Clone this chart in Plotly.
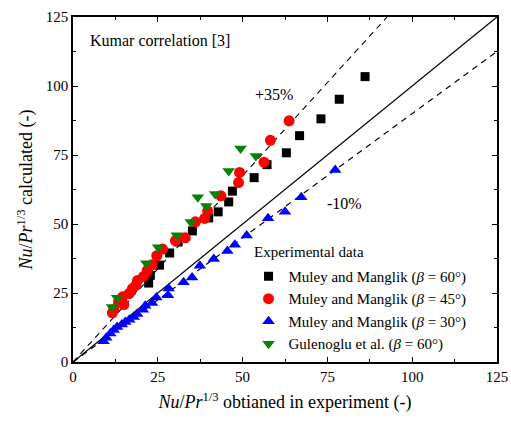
import plotly.graph_objects as go

# Data: (Nu/Pr^1/3 experiment, Nu/Pr^1/3 calculated)
black_x = [22.3, 22.8, 25.5, 28.5, 31.0, 35.2, 40.0, 42.8, 45.9, 47.0, 53.4, 57.2, 62.9, 66.8, 73.1, 78.5, 86.1]
black_y = [28.6, 31.4, 35.1, 39.5, 43.5, 47.5, 52.2, 54.4, 58.0, 61.9, 66.8, 71.5, 75.8, 82.0, 88.1, 95.2, 103.4]

red_x = [11.6, 12.0, 13.4, 14.6, 15.0, 16.5, 17.5, 18.5, 19.0, 20.8, 21.9, 23.3, 24.7, 26.4, 30.2, 33.1, 36.1, 38.8, 39.7, 43.6, 48.8, 49.1, 56.3, 58.2, 63.7]
red_y = [17.8, 19.0, 21.7, 23.6, 20.8, 24.8, 26.6, 27.8, 29.5, 31.0, 33.2, 35.2, 38.5, 40.9, 44.0, 45.0, 50.8, 52.0, 54.7, 60.2, 65.0, 68.7, 72.4, 80.3, 87.4]

blue_x = [9.0, 9.8, 11.0, 12.0, 13.0, 14.4, 15.4, 16.6, 17.9, 18.9, 20.6, 21.3, 23.3, 24.6, 28.0, 28.2, 32.6, 35.1, 37.4, 41.5, 45.5, 47.7, 51.2, 57.5, 62.5, 67.3, 77.3]
blue_y = [7.5, 8.8, 10.3, 11.6, 12.7, 13.6, 14.5, 15.3, 16.3, 17.4, 18.9, 20.4, 21.4, 23.4, 24.2, 26.6, 28.9, 30.6, 34.9, 37.3, 40.2, 42.5, 45.8, 52.1, 54.4, 59.7, 69.6]

green_x = [11.5, 13.0, 21.6, 25.1, 30.6, 34.7, 36.8, 39.3, 41.9, 45.9, 49.4, 53.9]
green_y = [19.9, 23.3, 35.8, 41.6, 45.9, 50.7, 59.7, 56.5, 60.9, 69.2, 77.4, 74.6]

axis_max = 125
upper_factor = 1.35
lower_factor = 0.90
ticks = [0, 25, 50, 75, 100, 125]

FONT = "Liberation Serif"

fig = go.Figure()

# reference lines
fig.add_trace(go.Scatter(x=[0, axis_max], y=[0, axis_max], mode="lines",
                         line=dict(color="black", width=1.3), showlegend=False, hoverinfo="skip"))
fig.add_trace(go.Scatter(x=[0, axis_max / upper_factor], y=[0, axis_max], mode="lines",
                         line=dict(color="black", width=1.1, dash="6px,5px"), showlegend=False, hoverinfo="skip"))
fig.add_trace(go.Scatter(x=[0, axis_max], y=[0, axis_max * lower_factor], mode="lines",
                         line=dict(color="black", width=1.1, dash="6px,5px"), showlegend=False, hoverinfo="skip"))

fig.add_trace(go.Scatter(x=black_x, y=black_y, mode="markers", name="Muley and Manglik (<i>β</i> = 60°)",
                         marker=dict(symbol="square", size=9, color="black")))
fig.add_trace(go.Scatter(x=red_x, y=red_y, mode="markers", name="Muley and Manglik (<i>β</i> = 45°)",
                         marker=dict(symbol="circle", size=11, color="#FF0000")))
fig.add_trace(go.Scatter(x=blue_x, y=blue_y, mode="markers", name="Muley and Manglik (<i>β</i> = 30°)",
                         marker=dict(symbol="triangle-up", size=11, color="#0000FF")))
fig.add_trace(go.Scatter(x=green_x, y=green_y, mode="markers", name="Gulenoglu et al. (<i>β</i> = 60°)",
                         marker=dict(symbol="triangle-down", size=11, color="#078207")))

axis_common = dict(range=[0, axis_max], tickvals=ticks, showgrid=False, zeroline=False,
                   showline=True, linecolor="black", linewidth=1.5, mirror="ticks",
                   ticks="inside", ticklen=5, tickwidth=1.3, tickcolor="black",
                   tickfont=dict(family=FONT, size=15, color="black"),
                   minor=dict(ticks="inside", ticklen=3, tickwidth=1.2, tickcolor="black", dtick=12.5))

fig.update_xaxes(**axis_common,
                 title=dict(text="<i>Nu</i>/<i>Pr</i><sup>1/3</sup> obtianed in experiment (-)",
                            font=dict(family=FONT, size=18, color="black"), standoff=12))
fig.update_yaxes(**axis_common,
                 title=dict(text="<i>Nu</i>/<i>Pr</i><sup>1/3</sup> calculated (-)",
                            font=dict(family=FONT, size=18, color="black"), standoff=8))

fig.add_annotation(x=4.5, y=116.5, xref="x", yref="y", text="Kumar correlation [3]", showarrow=False,
                   xanchor="left", yanchor="middle", font=dict(family=FONT, size=16, color="black"))
fig.add_annotation(x=59.3, y=96.8, xref="x", yref="y", text="+35%", showarrow=False,
                   font=dict(family=FONT, size=16, color="black"))
fig.add_annotation(x=79.9, y=57.5, xref="x", yref="y", text="-10%", showarrow=False,
                   font=dict(family=FONT, size=16, color="black"))
fig.add_annotation(x=0.422, y=0.318, xref="paper", yref="paper", text="Experimental data", showarrow=False,
                   xanchor="left", yanchor="middle", font=dict(family=FONT, size=15, color="black"))

fig.update_layout(
    template="none",
    width=511, height=429,
    margin=dict(l=73, r=14, t=17, b=67),
    plot_bgcolor="white", paper_bgcolor="white",
    font=dict(family=FONT, color="black"),
    legend=dict(x=0.414, y=0.296, xanchor="left", yanchor="top", bgcolor="rgba(0,0,0,0)",
                font=dict(family=FONT, size=15, color="black"), tracegroupgap=0),
)

fig.write_html("out.html")
